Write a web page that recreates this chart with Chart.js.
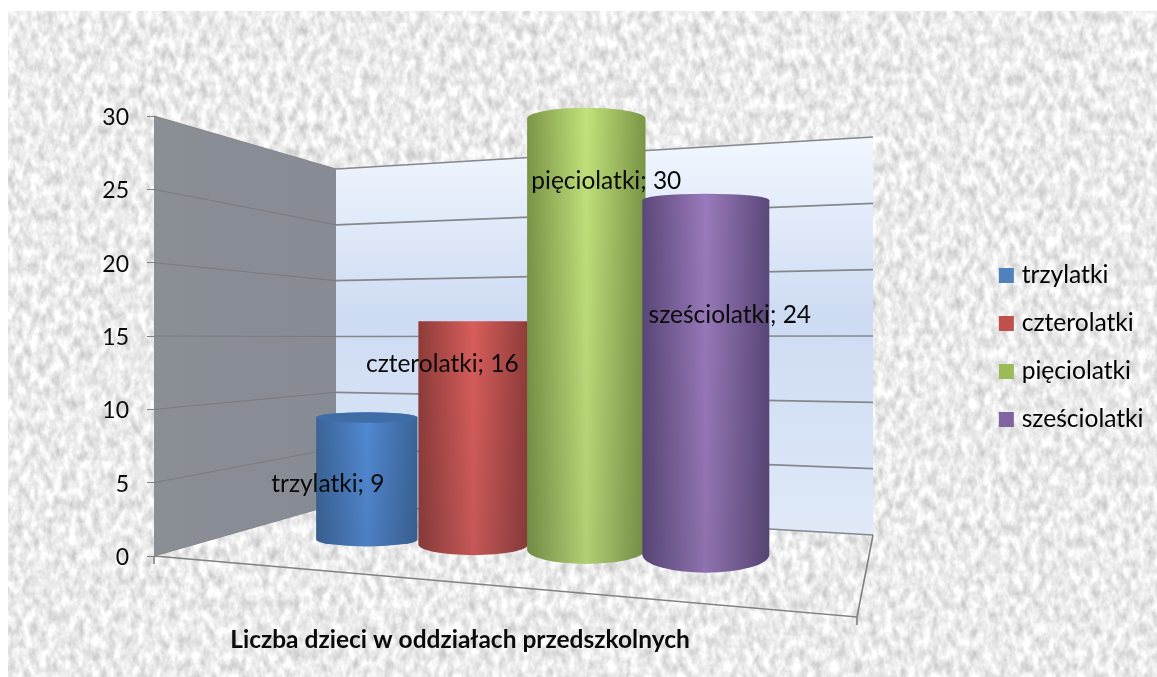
<!DOCTYPE html>
<html>
<head>
<meta charset="utf-8">
<script src="https://cdn.jsdelivr.net/npm/chart.js@4"></script>
<style>
  html, body { margin: 0; padding: 0; background: #fff; overflow: hidden; }
  #paper { position: absolute; left: 8px; top: 11px; width: 1149px; height: 666px; background: #e9e9e9; overflow: hidden; }
  #paper svg { display: block; }
  #chart { position: absolute; left: 0; top: 0; }
</style>
</head>
<body>
<div id="paper">
  <svg width="1149" height="666" xmlns="http://www.w3.org/2000/svg">
    <filter id="grain" x="0" y="0" width="100%" height="100%" color-interpolation-filters="sRGB">
      <feTurbulence type="fractalNoise" baseFrequency="0.13 0.08" numOctaves="3" seed="7"/>
      <feColorMatrix type="matrix" values="0.36 0 0 0 0.74  0.36 0 0 0 0.74  0.36 0 0 0 0.74  0 0 0 0 1"/>
    </filter>
    <rect width="1149" height="666" filter="url(#grain)"/>
  </svg>
</div>
<canvas id="chart" width="1157" height="677"></canvas>
<script>
// data
const categories = ['trzylatki', 'czterolatki', 'pięciolatki', 'sześciolatki'];
const childCounts = [9, 16, 30, 24];
const axisTitle = 'Liczba dzieci w oddziałach przedszkolnych';

// colours of each cylinder
const barColors = ['#4f81bd', '#c0504d', '#9bbb59', '#8064a2'];
const barEdges = ['#3a6496', '#8e3c39', '#7a9546', '#5a4779'];
const barLights = ['#5189d3', '#d85d5b', '#c1e27a', '#9a7abb'];
const barCaps = ['#3f6ea6', '#a8423f', '#86a24d', '#6a5390'];

// where the data label sits relative to the cylinder
const labelNudgeX = [-39, -31, 20, 24];
const labelNudgeY = [67, 43, 62, 115];

const textFont = 'Lato, sans-serif';

// shape of the 3d box, in canvas pixels
const box = {
  backX: 336, backRightX: 873,
  backLeftTop: 169, backLeftBottom: 504,
  backRightTop: 137, backRightBottom: 535,
  frontRightX: 857, frontRightY: 617
};

// perspective of a cylinder standing on the floor, t = position along the x axis (0..1)
function project(el, chart) {
  const area = chart.chartArea;
  const y = chart.scales.y;
  const t = (el.x - area.left) / (area.right - area.left);
  const k = 0.91 + 0.11 * t;
  const base = y.getPixelForValue(0) - 19 + 20 * t;
  return {
    cx: 316 + 400 * t + 52 * t * t,
    w: el.width * (0.54 + 0.19 * t),
    base: base,
    top: base - (y.getPixelForValue(0) - el.y) * k,
    baseRy: 5 + 15 * t
  };
}

function drawWalls(chart) {
  const ctx = chart.ctx;
  const y = chart.scales.y;
  const left = chart.chartArea.left;
  const y0 = y.getPixelForValue(0);
  const yMax = y.getPixelForValue(y.max);
  const backL = v => box.backLeftBottom + (box.backLeftTop - box.backLeftBottom) * v / y.max;
  const backR = v => box.backRightBottom + (box.backRightTop - box.backRightBottom) * v / y.max;

  ctx.save();
  // left wall
  let g = ctx.createLinearGradient(left, 0, box.backX, 0);
  g.addColorStop(0, '#8a8f96');
  g.addColorStop(1, '#868b94');
  ctx.fillStyle = g;
  ctx.beginPath();
  ctx.moveTo(left, yMax);
  ctx.lineTo(box.backX, box.backLeftTop);
  ctx.lineTo(box.backX, box.backLeftBottom);
  ctx.lineTo(left, y0);
  ctx.closePath();
  ctx.fill();

  // back wall
  g = ctx.createLinearGradient(0, box.backRightTop, 0, box.backRightBottom);
  g.addColorStop(0, '#f2f7fe');
  g.addColorStop(0.45, '#cddbf3');
  g.addColorStop(1, '#dfe9f8');
  ctx.fillStyle = g;
  ctx.beginPath();
  ctx.moveTo(box.backX, box.backLeftTop);
  ctx.lineTo(box.backRightX, box.backRightTop);
  ctx.lineTo(box.backRightX, box.backRightBottom);
  ctx.lineTo(box.backX, box.backLeftBottom);
  ctx.closePath();
  ctx.fill();

  // grid lines, one per y tick
  y.ticks.forEach(tick => {
    const py = y.getPixelForValue(tick.value);
    const edge = tick.value === y.max || tick.value === 0;
    ctx.strokeStyle = edge ? '#85868a' : 'rgba(118,108,104,0.6)';
    ctx.lineWidth = edge ? 1.2 : 1;
    ctx.beginPath();
    ctx.moveTo(left, py);
    ctx.lineTo(box.backX, backL(tick.value));
    ctx.stroke();
    ctx.strokeStyle = '#85878c';
    ctx.lineWidth = 1.6;
    ctx.beginPath();
    ctx.moveTo(box.backX, backL(tick.value));
    ctx.lineTo(box.backRightX, backR(tick.value));
    ctx.stroke();
  });

  // floor edges
  ctx.strokeStyle = '#808080';
  ctx.lineWidth = 1.6;
  ctx.beginPath();
  ctx.moveTo(left, y0);
  ctx.lineTo(box.frontRightX, box.frontRightY);
  ctx.lineTo(box.backRightX, box.backRightBottom);
  ctx.moveTo(left, y0);
  ctx.lineTo(left, y0 + 8);
  ctx.moveTo(box.frontRightX, box.frontRightY);
  ctx.lineTo(box.frontRightX, box.frontRightY + 8);
  ctx.stroke();
  ctx.restore();
}

function drawCylinder(ctx, p, i, horizon) {
  const x0 = p.cx - p.w / 2;
  const rx = p.w / 2;
  const topRy = (p.top - horizon) * 0.055;
  const ry = Math.abs(topRy);

  ctx.beginPath();
  ctx.moveTo(x0, p.top);
  ctx.ellipse(p.cx, p.top, rx, ry, 0, Math.PI, 2 * Math.PI);
  ctx.lineTo(x0 + p.w, p.base);
  ctx.ellipse(p.cx, p.base, rx, p.baseRy, 0, 0, Math.PI);
  ctx.closePath();

  const g = ctx.createLinearGradient(x0, 0, x0 + p.w, 0);
  g.addColorStop(0, barEdges[i]);
  g.addColorStop(0.5, barLights[i]);
  g.addColorStop(1, barEdges[i]);
  ctx.fillStyle = g;
  ctx.fill();

  // a little darker towards the floor
  const shade = ctx.createLinearGradient(0, p.top, 0, p.base);
  shade.addColorStop(0, 'rgba(40,40,60,0)');
  shade.addColorStop(1, 'rgba(40,40,60,0.1)');
  ctx.fillStyle = shade;
  ctx.fill();

  // the cap shows only when the top is below the eye line
  if (topRy > 1) {
    ctx.fillStyle = barCaps[i];
    ctx.beginPath();
    ctx.ellipse(p.cx, p.top, rx, ry, 0, 0, 2 * Math.PI);
    ctx.fill();
  }
}

const cylinderPlugin = {
  id: 'cylinders',
  afterLayout(chart) {
    // legend stands further out than its layout box
    chart.legend.left += 107;
    chart.legend.right += 107;
    chart.legend.top += 11.5;
    chart.legend.bottom += 11.5;
  },
  beforeDatasetsDraw(chart) {
    drawWalls(chart);
  },
  beforeDatasetDraw() {
    return false;
  },
  afterDatasetsDraw(chart) {
    const ctx = chart.ctx;
    const y = chart.scales.y;
    const bars = chart.getDatasetMeta(0).data;
    const horizon = y.getPixelForValue(16);
    const placed = bars.map(el => project(el, chart));
    ctx.save();
    placed.forEach((p, i) => drawCylinder(ctx, p, i, horizon));

    ctx.fillStyle = '#0a0a0a';
    ctx.font = '24.5px ' + textFont;
    ctx.textAlign = 'center';
    ctx.textBaseline = 'middle';
    placed.forEach((p, i) => {
      ctx.fillText(categories[i] + '; ' + childCounts[i], p.cx + labelNudgeX[i], p.top + labelNudgeY[i]);
    });

    ctx.font = 'bold 24.5px ' + textFont;
    ctx.fillText(axisTitle, 460, 640);
    ctx.restore();
  }
};

new Chart(document.getElementById('chart'), {
  type: 'bar',
  data: {
    labels: categories,
    datasets: [{
      label: axisTitle,
      data: childCounts,
      backgroundColor: barColors,
      barPercentage: 1,
      categoryPercentage: 1
    }]
  },
  options: {
    responsive: false,
    animation: false,
    events: [],
    layout: { padding: { top: 116, bottom: 121, left: 0, right: 110.5 } },
    scales: {
      x: { display: false },
      y: {
        min: 0,
        max: 30,
        afterFit(axis) { axis.width = 154; },
        border: { display: false },
        grid: { drawOnChartArea: false, tickLength: 7, color: '#808080' },
        ticks: { stepSize: 5, padding: 18, labelOffset: 1.5, color: '#0a0a0a', font: { family: textFont, size: 23 } }
      }
    },
    plugins: {
      tooltip: { enabled: false },
      legend: {
        position: 'right',
        labels: {
          boxWidth: 6,
          boxHeight: 6,
          padding: 23.4,
          color: '#0a0a0a',
          font: { family: textFont, size: 24.6 },
          generateLabels: () => categories.map((name, i) => ({
            text: name,
            fillStyle: barColors[i],
            strokeStyle: barColors[i],
            lineWidth: 9,
            index: i
          }))
        }
      }
    }
  },
  plugins: [cylinderPlugin]
});
</script>
</body>
</html>
